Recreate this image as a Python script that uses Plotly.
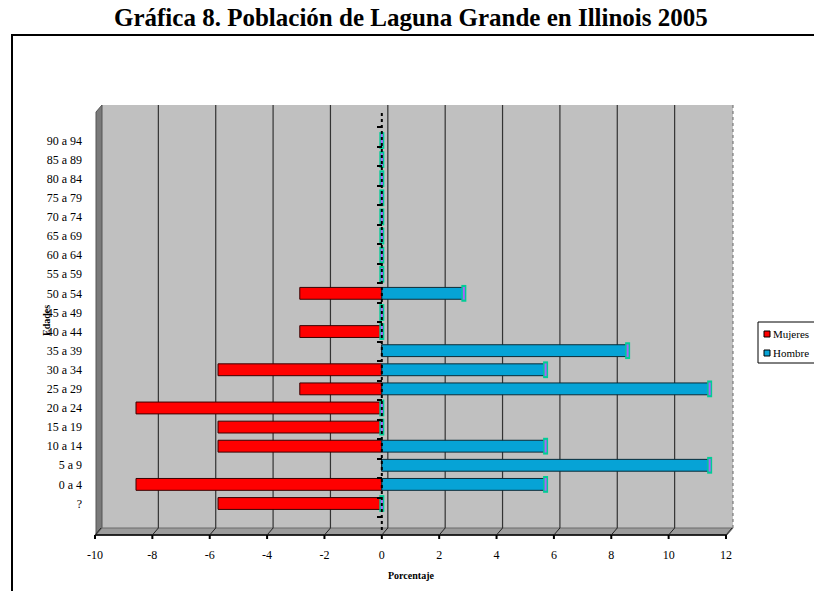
import plotly.graph_objects as go

categorias = ["?", "0 a 4", "5 a 9", "10 a 14", "15 a 19", "20 a 24", "25 a 29",
              "30 a 34", "35 a 39", "40 a 44", "45 a 49", "50 a 54", "55 a 59",
              "60 a 64", "65 a 69", "70 a 74", "75 a 79", "80 a 84", "85 a 89", "90 a 94"]
mujeres = [-5.71, -8.57, 0, -5.71, -5.71, -8.57, -2.86, -5.71, 0, -2.86, 0, -2.86,
           0, 0, 0, 0, 0, 0, 0, 0]
hombres = [0, 5.71, 11.43, 5.71, 0, 0, 11.43, 5.71, 8.57, 0, 0, 2.86,
           0, 0, 0, 0, 0, 0, 0, 0]
x_ticks = [-10, -8, -6, -4, -2, 0, 2, 4, 6, 8, 10, 12]

W, H = 814, 591
L, R, T, B = 95, 726, 112, 532  # plot area in screen pixels
FONT = "Liberation Serif"


def px(xp):
    return (xp - L) / (R - L)


def py(yp):
    return (B - yp) / (B - T)


def xv(v):
    return L + (v - x_ticks[0]) * (R - L) / (x_ticks[-1] - x_ticks[0])


fig = go.Figure()
fig.add_trace(go.Bar(y=categorias, x=mujeres, orientation="h", name="Mujeres",
                     marker=dict(color="#FF0000", line=dict(color="#3a0000", width=1)),
                     showlegend=False, hoverinfo="x+y"))
fig.add_trace(go.Bar(y=categorias, x=hombres, orientation="h", name="Hombre",
                     marker=dict(color="#06A3D6", line=dict(color="#0b2c38", width=1)),
                     showlegend=False, hoverinfo="x+y"))
# cylinder end caps
fig.add_trace(go.Scatter(y=categorias, x=hombres, mode="markers", showlegend=False,
                         hoverinfo="skip",
                         marker=dict(symbol="line-ns-open", size=12,
                                     line=dict(width=5, color="#0b2f3d"))))
fig.add_trace(go.Scatter(y=categorias, x=hombres, mode="markers", showlegend=False,
                         hoverinfo="skip",
                         marker=dict(symbol="line-ns-open", size=9,
                                     line=dict(width=2, color="#0B6F98"))))
# helper trace for the central axis ticks
fig.add_trace(go.Scatter(y=categorias, x=[0] * len(categorias), mode="markers",
                         yaxis="y2", showlegend=False, hoverinfo="skip",
                         marker=dict(opacity=0)))

shapes = []
# outer frame
shapes.append(dict(type="rect", xref="paper", yref="paper", x0=px(12), x1=px(830),
                   y0=py(35), y1=py(610), line=dict(color="black", width=2),
                   fillcolor="rgba(0,0,0,0)", layer="below"))
# back wall
shapes.append(dict(type="rect", xref="paper", yref="paper", x0=px(102), x1=px(733),
                   y0=py(528), y1=py(105), line=dict(width=0), fillcolor="#C0C0C0",
                   layer="below"))
# left side wall
shapes.append(dict(type="path", xref="paper", yref="paper",
                   path=f"M {px(96)},{py(112)} L {px(102)},{py(105)} L {px(102)},{py(528)} L {px(96)},{py(535)} Z",
                   fillcolor="#7A7A7A", line=dict(color="#555555", width=1), layer="below"))
# floor
shapes.append(dict(type="path", xref="paper", yref="paper",
                   path=f"M {px(96)},{py(535)} L {px(102)},{py(528)} L {px(733)},{py(528)} L {px(727)},{py(535)} Z",
                   fillcolor="#9C9C9C", line=dict(color="#6a6a6a", width=1), layer="below"))
shapes.append(dict(type="line", xref="paper", yref="paper", x0=px(96), x1=px(727),
                   y0=py(535), y1=py(535), line=dict(color="black", width=1.5), layer="below"))
# right edge of wall (dotted)
shapes.append(dict(type="line", xref="paper", yref="paper", x0=px(733), x1=px(733),
                   y0=py(105), y1=py(528), line=dict(color="#666666", width=1, dash="dot"),
                   layer="below"))
# gridlines on back wall + slanted floor ticks
for v in x_ticks:
    xp = xv(v)
    if x_ticks[0] < v < x_ticks[-1]:
        shapes.append(dict(type="line", xref="paper", yref="paper", x0=px(xp + 6), x1=px(xp + 6),
                           y0=py(528), y1=py(105), line=dict(color="#333333", width=1.2),
                           layer="below"))
    shapes.append(dict(type="line", xref="paper", yref="paper", x0=px(xp), x1=px(xp + 6),
                       y0=py(535), y1=py(528), line=dict(color="#222222", width=1),
                       layer="below"))
    shapes.append(dict(type="line", xref="paper", yref="paper", x0=px(xp), x1=px(xp),
                       y0=py(535), y1=py(539), line=dict(color="black", width=2),
                       layer="below"))
# central dotted axis
shapes.append(dict(type="line", xref="x", yref="paper", x0=0, x1=0, y0=py(530), y1=py(110),
                   line=dict(color="black", width=2, dash="dot")))
# legend box
shapes.append(dict(type="rect", xref="paper", yref="paper", x0=px(758), x1=px(830),
                   y0=py(363), y1=py(322), line=dict(color="black", width=1),
                   fillcolor="white"))
shapes.append(dict(type="rect", xref="paper", yref="paper", x0=px(764), x1=px(770),
                   y0=py(337), y1=py(331), line=dict(color="black", width=1),
                   fillcolor="#FF0000"))
shapes.append(dict(type="rect", xref="paper", yref="paper", x0=px(764), x1=px(770),
                   y0=py(356), y1=py(350), line=dict(color="black", width=1),
                   fillcolor="#06A3D6"))

annotations = [
    dict(text="<b>Gráfica 8. Población de Laguna Grande en Illinois 2005</b>",
         xref="paper", yref="paper", x=px(411), y=py(18), showarrow=False,
         xanchor="center", yanchor="middle", borderpad=0,
         font=dict(family=FONT, size=25, color="black")),
    dict(text="<b>Porcentaje</b>", xref="paper", yref="paper", x=px(411), y=py(575),
         showarrow=False, xanchor="center", yanchor="middle",
         font=dict(family=FONT, size=10, color="black")),
    dict(text="<b>Edades</b>", xref="paper", yref="paper", x=px(46), y=py(321),
         showarrow=False, textangle=-90, xanchor="center", yanchor="middle",
         font=dict(family=FONT, size=10, color="black")),
    dict(text="Mujeres", xref="paper", yref="paper", x=px(771), y=py(334),
         showarrow=False, xanchor="left", yanchor="middle",
         font=dict(family=FONT, size=11, color="black")),
    dict(text="Hombre", xref="paper", yref="paper", x=px(771), y=py(353),
         showarrow=False, xanchor="left", yanchor="middle",
         font=dict(family=FONT, size=11, color="black")),
]

fig.update_layout(
    width=W, height=H,
    margin=dict(l=L, r=W - R, t=T, b=H - B, pad=0),
    paper_bgcolor="white", plot_bgcolor="rgba(0,0,0,0)",
    barmode="overlay", bargap=0.38,
    shapes=shapes, annotations=annotations,
    font=dict(family=FONT, size=11, color="black"),
    xaxis=dict(range=[x_ticks[0], x_ticks[-1]], tickvals=x_ticks,
               ticktext=[str(v) for v in x_ticks], showgrid=False, zeroline=False,
               showline=False, ticks="", ticklabelstandoff=14,
               tickfont=dict(family=FONT, size=12)),
    yaxis=dict(type="category", categoryorder="array", categoryarray=categorias,
               showgrid=False, zeroline=False, showline=False, ticks="",
               ticklabelstandoff=12, tickfont=dict(family=FONT, size=12)),
    yaxis2=dict(type="category", categoryorder="array", categoryarray=categorias,
                overlaying="y", anchor="free", position=10 / 22, side="left",
                showticklabels=False, showgrid=False, zeroline=False, showline=False,
                ticks="outside", ticklen=5, tickwidth=2, tickcolor="black",
                tickson="boundaries"),
    hovermode="closest",
)

fig.write_html("out.html", config={"displayModeBar": False},
               post_script="document.body.style.margin='0px';document.body.style.overflow='hidden';")
